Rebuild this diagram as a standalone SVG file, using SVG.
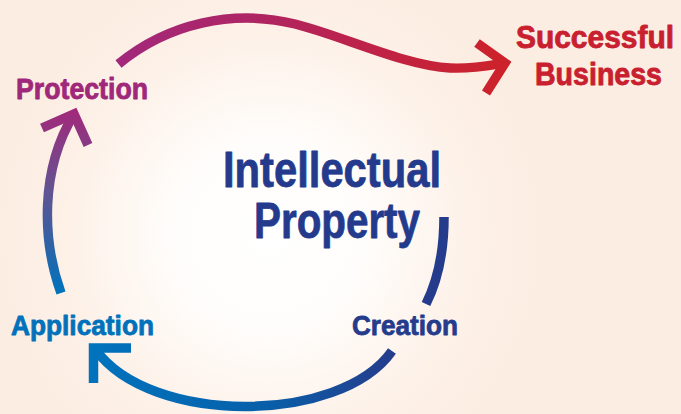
<svg xmlns="http://www.w3.org/2000/svg" width="681" height="414" viewBox="0 0 681 414">
  <defs>
    <radialGradient id="bg" gradientUnits="userSpaceOnUse" cx="270" cy="235" r="270">
      <stop offset="0" stop-color="#ffffff"/>
      <stop offset="0.35" stop-color="#fffdfb"/>
      <stop offset="0.75" stop-color="#fdf1e8"/>
      <stop offset="1" stop-color="#fcede2"/>
    </radialGradient>
    <linearGradient id="gTop" gradientUnits="userSpaceOnUse" x1="118" y1="0" x2="510" y2="0">
      <stop offset="0" stop-color="#a2287b"/>
      <stop offset="0.35" stop-color="#ae2563"/>
      <stop offset="0.7" stop-color="#c12242"/>
      <stop offset="1" stop-color="#cd2229"/>
    </linearGradient>
    <linearGradient id="gLeft" gradientUnits="userSpaceOnUse" x1="0" y1="293" x2="0" y2="108">
      <stop offset="0" stop-color="#0073bc"/>
      <stop offset="0.25" stop-color="#2c63a6"/>
      <stop offset="0.55" stop-color="#625492"/>
      <stop offset="1" stop-color="#a3287a"/>
    </linearGradient>
    <linearGradient id="gBottom" gradientUnits="userSpaceOnUse" x1="395" y1="0" x2="94" y2="0">
      <stop offset="0" stop-color="#263c8c"/>
      <stop offset="0.45" stop-color="#0760aa"/>
      <stop offset="1" stop-color="#0073bc"/>
    </linearGradient>
    <style>
      .lbl { font-family: "Liberation Sans Narrow", "Liberation Sans", Arial, sans-serif; font-weight: bold; stroke-width: 0.8; stroke-linejoin: round; }
      .arc { fill: none; stroke-width: 9.5; stroke-linecap: butt; stroke-linejoin: miter; stroke-miterlimit: 10; }
    </style>
  </defs>

  <rect x="0" y="0" width="681" height="414" fill="url(#bg)"/>

  <g id="connectors">
    <path class="arc" stroke="url(#gTop)" d="M118.5,64 A198,194 0 0 1 295,24 C 340,35 405,66 450,68 C 475,69 492,65 505,63"/>
    <polyline class="arc" stroke="url(#gTop)" points="477,43 505,63 486,93"/>
    <path class="arc" stroke="url(#gLeft)" d="M61,293 C 42,240 40,170 74,114"/>
    <polyline class="arc" stroke="url(#gLeft)" points="42,128 74,114 88,145"/>
    <path class="arc" stroke="#253b8c" d="M444,217 C 444,250 438,280 426,304"/>
    <path class="arc" stroke="url(#gBottom)" d="M392,351 C 340,425 150,425 96,350"/>
    <polyline class="arc" stroke="url(#gBottom)" points="131,348 93.5,348 93.5,383"/>
  </g>

  <g id="node-ip">
    <text class="lbl" x="223" y="187" font-size="50" fill="#243a8c" stroke="#243a8c" textLength="218" lengthAdjust="spacingAndGlyphs">Intellectual</text>
    <text class="lbl" x="254" y="238" font-size="50" fill="#243a8c" stroke="#243a8c" textLength="166" lengthAdjust="spacingAndGlyphs">Property</text>
  </g>
  <g id="node-protection">
    <text class="lbl" x="16" y="99" font-size="29" fill="#a0287a" stroke="#a0287a" textLength="132" lengthAdjust="spacingAndGlyphs">Protection</text>
  </g>
  <g id="node-business" transform="translate(0,48) scale(1,1.07) translate(0,-48)">
    <text class="lbl" x="516" y="48" font-size="30" fill="#c8202f" stroke="#c8202f" textLength="158" lengthAdjust="spacingAndGlyphs">Successful</text>
    <text class="lbl" x="535" y="82.6" font-size="30" fill="#c8202f" stroke="#c8202f" textLength="127" lengthAdjust="spacingAndGlyphs">Business</text>
  </g>
  <g id="node-application">
    <text class="lbl" x="11" y="335" font-size="28.5" fill="#0071bb" stroke="#0071bb" textLength="143" lengthAdjust="spacingAndGlyphs">Application</text>
  </g>
  <g id="node-creation">
    <text class="lbl" x="352" y="335" font-size="28.5" fill="#253b8b" stroke="#253b8b" textLength="106" lengthAdjust="spacingAndGlyphs">Creation</text>
  </g>
</svg>
